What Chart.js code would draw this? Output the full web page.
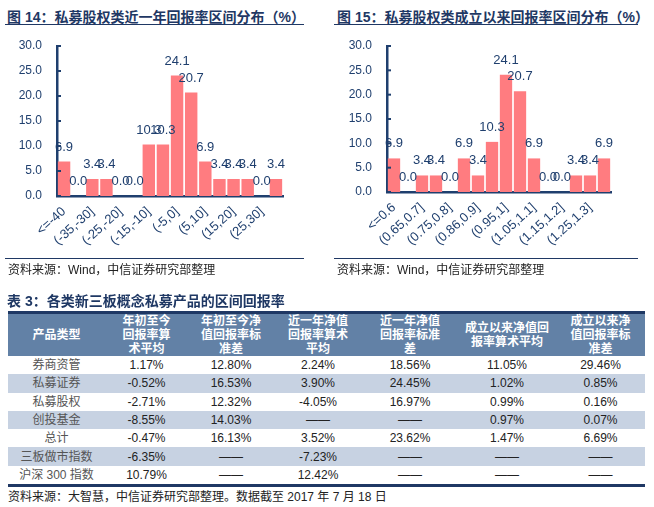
<!DOCTYPE html>
<html>
<head>
<meta charset="utf-8">
<script src="https://cdn.jsdelivr.net/npm/chart.js@4.4.1/dist/chart.umd.min.js"></script>
<style>
body{margin:0;width:654px;height:507px;background:#fff;position:relative;overflow:hidden;font-family:"Liberation Sans",Arial,"Noto Sans CJK SC",sans-serif;}
.ttl{position:absolute;top:6px;font-size:14px;font-weight:bold;color:#1f3864;white-space:nowrap;}
.rule{position:absolute;height:0;border-top:1.5px solid #1f3864;}
.src{position:absolute;font-size:12px;color:#222;white-space:nowrap;}
.box{position:absolute;top:35px;}
#tbl{position:absolute;left:8px;top:311px;width:637px;border-collapse:collapse;table-layout:fixed;border-top:3px solid #1f3864;border-bottom:3px solid #1f3864;}
#tbl th{background:#6281a6;color:#fff;font-size:12px;font-weight:bold;line-height:14px;height:41px;padding:0;text-align:center;}
#tbl td{height:18.3px;padding:0;text-align:center;font-size:12px;color:#222;line-height:18px;}
#tbl td.name{color:#555;}
#tbl tr.alt td{background:#c7d2e2;}
</style>
</head>
<body>
<div class="ttl" style="left:7px">图 14：私募股权类近一年回报率区间分布（%）</div>
<div class="rule" style="left:5px;top:24px;width:299px"></div>
<div class="box" style="left:0"><canvas id="yearChart" width="300" height="225"></canvas></div>
<div class="rule" style="left:5px;top:258px;width:299px;border-top-width:1px"></div>
<div class="src" style="left:8px;top:260px">资料来源：Wind，中信证券研究部整理</div>

<div class="ttl" style="left:337px">图 15：私募股权类成立以来回报率区间分布（%）</div>
<div class="rule" style="left:334px;top:24px;width:304px"></div>
<div class="box" style="left:327px"><canvas id="sinceChart" width="300" height="225"></canvas></div>
<div class="rule" style="left:334px;top:258px;width:304px;border-top-width:1px"></div>
<div class="src" style="left:337px;top:260px">资料来源：Wind，中信证券研究部整理</div>

<div class="ttl" style="left:7px;top:290px">表 3：各类新三板概念私募产品的区间回报率</div>
<table id="tbl"></table>
<div class="src" style="left:8px;top:487px">资料来源：大智慧，中信证券研究部整理。数据截至 2017 年 7 月 18 日</div>

<script>
// chart data
const yearBins = ['<=-40', '(-40,-35]', '(-35,-30]', '(-30,-25]', '(-25,-20]', '(-20,-15]', '(-15,-10]', '(-10,-5]',
    '(-5,0]', '(0,5]', '(5,10]', '(10,15]', '(15,20]', '(20,25]', '(25,30]', '>30'];
const yearShares = [6.9, 0.0, 3.4, 3.4, 0.0, 0.0, 10.3, 10.3, 24.1, 20.7, 6.9, 3.4, 3.4, 3.4, 0.0, 3.4];

const sinceBins = ['<=0.6', '(0.6,0.65]', '(0.65,0.7]', '(0.7,0.75]', '(0.75,0.8]', '(0.8,0.86]', '(0.86,0.9]', '(0.9,0.95]',
    '(0.95,1]', '(1,1.05]', '(1.05,1.1]', '(1.1,1.15]', '(1.15,1.2]', '(1.2,1.25]', '(1.25,1.3]', '>1.3'];
const sinceShares = [6.9, 0.0, 3.4, 3.4, 0.0, 6.9, 3.4, 10.3, 24.1, 20.7, 6.9, 0.0, 0.0, 3.4, 3.4, 6.9];

// table data
const tableHeads = [['产品类型'], ['年初至今', '回报率算', '术平均'], ['年初至今净', '值回报率标', '准差'],
    ['近一年净值', '回报率算术', '平均'], ['近一年净值', '回报率标准', '差'], ['成立以来净值回', '报率算术平均'],
    ['成立以来净', '值回报率标', '准差']];
const productTypes = ['券商资管', '私募证券', '私募股权', '创投基金', '总计', '三板做市指数', '沪深 300 指数'];
const ytdMean = [1.17, -0.52, -2.71, -8.55, -0.47, -6.35, 10.79];
const ytdStd = [12.80, 16.53, 12.32, 14.03, 16.13, null, null];
const yearMean = [2.24, 3.90, -4.05, null, 3.52, -7.23, 12.42];
const yearStd = [18.56, 24.45, 16.97, null, 23.62, null, null];
const sinceMean = [11.05, 1.02, 0.99, 0.97, 1.47, null, null];
const sinceStd = [29.46, 0.85, 0.16, 0.07, 6.69, null, null];
const colWidths = [97, 83, 86, 88, 96, 98, 89];

const BAR_COLOR = '#ff7c80';
const NAVY = '#1f3f6e';

Chart.defaults.font.family = '"Liberation Sans", Arial, "Noto Sans CJK SC", sans-serif';
Chart.defaults.color = NAVY;

// value above every bar
const valueLabels = {
    id: 'valueLabels',
    afterDatasetsDraw(chart) {
        const ctx = chart.ctx;
        const ds = chart.data.datasets[0];
        ctx.save();
        ctx.font = '13px "Liberation Sans", Arial, sans-serif';
        ctx.fillStyle = NAVY;
        ctx.textAlign = 'center';
        ctx.textBaseline = 'alphabetic';
        chart.getDatasetMeta(0).data.forEach((bar, i) => {
            ctx.fillText(ds.data[i].toFixed(1), bar.x, bar.y - 11);
        });
        ctx.restore();
    }
};

// short tick marks on the inside of the y axis
const innerTicks = {
    id: 'innerTicks',
    afterDatasetsDraw(chart) {
        const ctx = chart.ctx;
        const y = chart.scales.y;
        const left = chart.chartArea.left;
        ctx.save();
        ctx.strokeStyle = NAVY;
        ctx.lineWidth = 2;
        y.ticks.forEach(t => {
            const py = y.getPixelForValue(t.value);
            ctx.beginPath();
            ctx.moveTo(left, py);
            ctx.lineTo(left + 4, py);
            ctx.stroke();
        });
        ctx.restore();
    }
};

function drawShareChart(canvasId, labels, values, box) {
    var ctx = document.getElementById(canvasId).getContext('2d');
    return new Chart(ctx, {
        type: 'bar',
        data: {
            labels: labels,
            datasets: [{
                data: values,
                backgroundColor: BAR_COLOR,
                barPercentage: 0.88,
                categoryPercentage: 1
            }]
        },
        options: {
            responsive: false,
            animation: false,
            layout: {padding: {left: 0, top: box.top, right: box.right, bottom: 0}},
            plugins: {legend: {display: false}, tooltip: {enabled: false}},
            scales: {
                x: {
                    grid: {display: false, drawTicks: false},
                    border: {color: NAVY, width: 2.5},
                    ticks: {
                        autoSkip: false,
                        minRotation: 42,
                        maxRotation: 42,
                        padding: 8,
                        font: {size: 13},
                        callback: (v, i) => i % 2 === 0 ? labels[i] : ''
                    },
                    // fixed axis size so the plot box lands where the picture has it
                    afterFit: s => {
                        s.height = box.xh;
                        s.paddingLeft = 0;
                        s.paddingRight = 0;
                    }
                },
                y: {
                    min: 0,
                    max: 30,
                    grid: {display: false, drawTicks: false},
                    border: {color: NAVY, width: 2.5},
                    ticks: {
                        stepSize: 5,
                        padding: 15,
                        font: {size: 12},
                        callback: v => v.toFixed(1)
                    },
                    afterFit: s => {
                        s.width = box.yw;
                        s.paddingTop = 0;
                        s.paddingBottom = 0;
                    }
                }
            }
        },
        plugins: [valueLabels, innerTicks]
    });
}

function buildTable() {
    const fmt = v => v === null ? '——' : v.toFixed(2) + '%';
    const cols = [ytdMean, ytdStd, yearMean, yearStd, sinceMean, sinceStd];
    let html = '<colgroup>' + colWidths.map(w => '<col style="width:' + w + 'px">').join('') + '</colgroup>';
    html += '<tr>' + tableHeads.map(h => '<th>' + h.join('<br>') + '</th>').join('') + '</tr>';
    productTypes.forEach((name, r) => {
        html += '<tr' + (r % 2 === 1 ? ' class="alt"' : '') + '><td class="name">' + name + '</td>';
        cols.forEach(c => { html += '<td>' + fmt(c[r]) + '</td>'; });
        html += '</tr>';
    });
    document.getElementById('tbl').innerHTML = html;
}

drawShareChart('yearChart', yearBins, yearShares, {top: 11, right: 17, yw: 57, xh: 64});
drawShareChart('sinceChart', sinceBins, sinceShares, {top: 11, right: 16, yw: 60, xh: 68});
buildTable();
</script>
</body>
</html>
